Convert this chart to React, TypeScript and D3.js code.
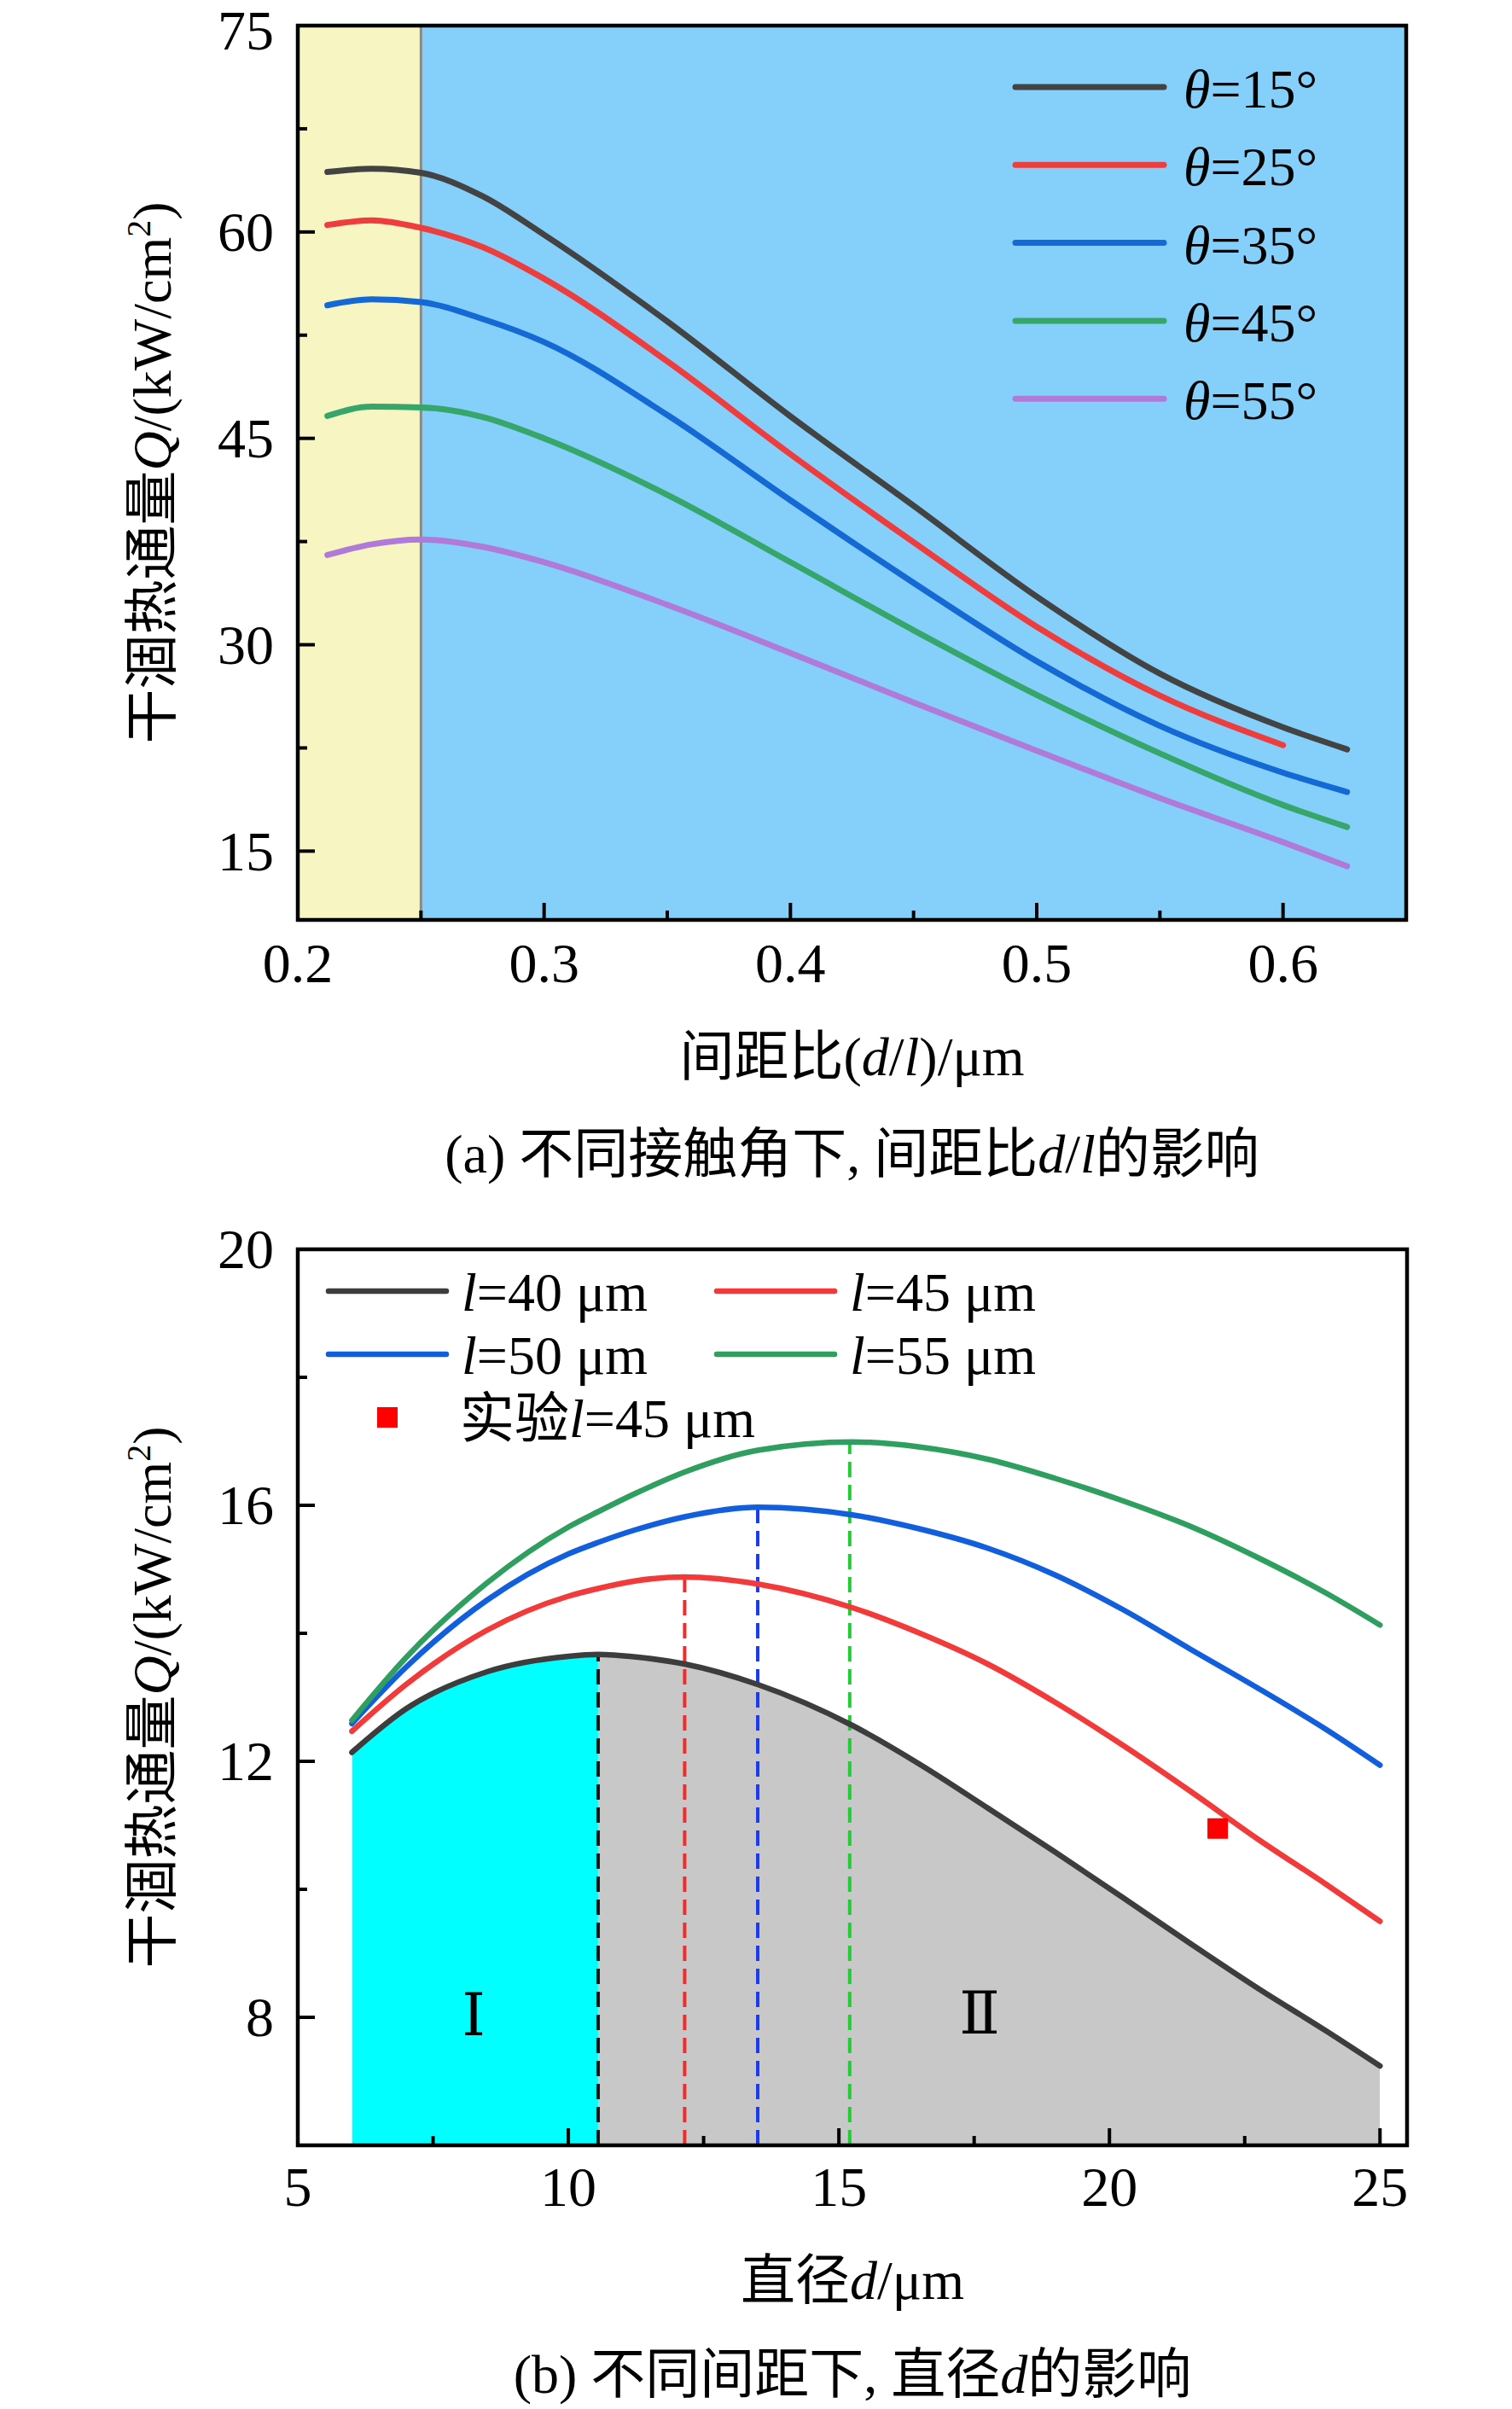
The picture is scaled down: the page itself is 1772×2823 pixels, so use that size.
import React from "react";
import * as d3 from "d3";

// (a) spacing ratio d/l vs dry-out heat flux, one series per contact angle
const ratio = [0.212, 0.23, 0.25, 0.275, 0.3, 0.35, 0.4, 0.45, 0.5, 0.55, 0.6, 0.626];
const theta15 = [64.36, 64.6, 64.3, 62.6, 59.8, 53.5, 46.6, 40.1, 33.5, 27.9, 24.0, 22.4];
const theta25 = [60.51, 60.85, 60.3, 58.9, 56.6, 50.6, 43.85, 37.45, 31.3, 26.3, 22.7];
const theta35 = [54.67, 55.1, 54.9, 53.68, 52.0, 46.7, 40.5, 34.5, 28.8, 24.1, 20.7, 19.3];
const theta45 = [46.63, 47.3, 47.25, 46.56, 45.0, 40.9, 36.0, 31.05, 26.35, 22.1, 18.35, 16.75];
const theta55 = [36.52, 37.3, 37.65, 37.12, 36.0, 32.9, 29.4, 25.8, 22.3, 18.85, 15.65, 13.9];
const thetaLabels = ["15", "25", "35", "45", "55"];
const ratioTicks = [0.2, 0.3, 0.4, 0.5, 0.6];
const ratioMinor = [0.25, 0.35, 0.45, 0.55];
const qTopTicks = [15, 30, 45, 60, 75];
const qTopMinor = [22.5, 37.5, 52.5, 67.5];
const ratioZone = 0.25;

// (b) diameter d vs dry-out heat flux, one series per spacing l
const diam = [6, 7, 8.5, 10, 10.55, 11.25, 12.15, 13.5, 15.25, 16.5, 17.75, 19, 20.25, 21.5, 22.75, 24, 25];
const l40 = [12.14, 12.82, 13.4, 13.64, 13.67, 13.63, 13.52, 13.2, 12.56, 11.95, 11.27, 10.58, 9.87, 9.15, 8.45, 7.79, 7.24];
const l45 = [12.47, 13.2, 14.05, 14.58, 14.7, 14.82, 14.88, 14.77, 14.4, 14.0, 13.52, 12.92, 12.25, 11.53, 10.78, 10.08, 9.5];
const l50 = [12.59, 13.47, 14.52, 15.24, 15.42, 15.62, 15.82, 15.97, 15.85, 15.63, 15.33, 14.91, 14.37, 13.75, 13.14, 12.5, 11.94];
const l55 = [12.64, 13.62, 14.79, 15.66, 15.9, 16.19, 16.52, 16.86, 16.99, 16.91, 16.72, 16.42, 16.07, 15.67, 15.18, 14.63, 14.13];
const spacingLabels = ["40", "45", "50", "55"];
const peakD = [10.55, 12.15, 13.5, 15.2];
const peakQ = [13.67, 14.88, 15.97, 16.99];
const expD = [22.0];
const expQ = [10.95];
const regionLabels = ["Ⅰ", "Ⅱ"];
const regionD = [8.25, 17.6];
const regionQ = [8.05, 8.08];
const diamTicks = [5, 10, 15, 20, 25];
const diamMinor = [7.5, 12.5, 17.5, 22.5];
const qBotTicks = [8, 12, 16, 20];
const qBotMinor = [10, 14, 18];

const serif = "'Liberation Serif', 'Times New Roman', 'Noto Sans CJK SC', serif";
const topColors = ["#434343", "#ee3d3d", "#1469d4", "#36a66a", "#b07ad9"];
const botColors = ["#3d3d3d", "#f23a3a", "#125fde", "#2e9f5e"];
const dashColors = ["#111111", "#f02c2c", "#1a3cf0", "#22cc33"];

const W = 1772;
const H = 2823;

const App: React.FC = () => {
  // panel (a)
  const xA = d3.scaleLinear().domain([0.2, 0.65]).range([349, 1648]);
  const yA = d3.scaleLinear().domain([10, 75]).range([1078, 30]);
  const lineA = d3
    .line<number>()
    .x((_, i) => xA(ratio[i]))
    .y((d) => yA(d))
    .curve(d3.curveMonotoneX);
  const seriesA = [theta15, theta25, theta35, theta45, theta55];

  // panel (b)
  const xB = d3.scaleLinear().domain([5, 25.5]).range([349, 1649]);
  const yB = d3.scaleLinear().domain([6, 20]).range([2514, 1464]);
  const lineB = d3
    .line<number>()
    .x((_, i) => xB(diam[i]))
    .y((d) => yB(d))
    .curve(d3.curveMonotoneX);
  const areaB = d3
    .area<number>()
    .x((_, i) => xB(diam[i]))
    .y0(yB(6))
    .y1((d) => yB(d))
    .curve(d3.curveMonotoneX);
  const seriesB = [l40, l45, l50, l55];

  const [a0, a1] = xA.range();
  const [aB, aT] = yA.range();
  const [b0, b1] = xB.range();
  const [bB, bT] = yB.range();

  const major = 20;
  const minor = 11;

  return (
    <svg
      width={W}
      height={H}
      viewBox={`0 0 ${W} ${H}`}
      style={{ position: "absolute", left: 0, top: 0, background: "#fff" }}
      fontFamily={serif}
    >
      {/* ===== panel (a) ===== */}
      <rect x={a0} y={aT} width={xA(ratioZone) - a0} height={aB - aT} fill="#f7f5c1" />
      <rect x={xA(ratioZone)} y={aT} width={a1 - xA(ratioZone)} height={aB - aT} fill="#84d0fb" />
      <line x1={xA(ratioZone)} x2={xA(ratioZone)} y1={aT} y2={aB} stroke="#8a8a8a" strokeWidth={3} />
      {seriesA.map((s, i) => (
        <path key={i} d={lineA(s) || ""} fill="none" stroke={topColors[i]} strokeWidth={7} strokeLinecap="round" />
      ))}
      <rect x={a0} y={aT} width={a1 - a0} height={aB - aT} fill="none" stroke="#000" strokeWidth={4.5} />
      {ratioTicks.map((t) => (
        <g key={t}>
          <line x1={xA(t)} x2={xA(t)} y1={aB} y2={aB - major} stroke="#000" strokeWidth={4} />
          <text x={xA(t)} y={aB + 73} fontSize={66} textAnchor="middle">{t.toFixed(1)}</text>
        </g>
      ))}
      {ratioMinor.map((t) => (
        <line key={t} x1={xA(t)} x2={xA(t)} y1={aB} y2={aB - minor} stroke="#000" strokeWidth={4} />
      ))}
      {qTopTicks.map((t) => (
        <g key={t}>
          <line x1={a0} x2={a0 + major} y1={yA(t)} y2={yA(t)} stroke="#000" strokeWidth={4} />
          <text x={a0 - 28} y={Math.max(yA(t), 36)} dy="0.34em" fontSize={66} textAnchor="end">{t}</text>
        </g>
      ))}
      {qTopMinor.map((t) => (
        <line key={t} x1={a0} x2={a0 + minor} y1={yA(t)} y2={yA(t)} stroke="#000" strokeWidth={4} />
      ))}
      {thetaLabels.map((lab, i) => {
        const y = 102 + i * 91.3;
        return (
          <g key={lab}>
            <line x1={1190} x2={1364} y1={y} y2={y} stroke={topColors[i]} strokeWidth={7} strokeLinecap="round" />
            <text x={1387} y={y + 24} fontSize={64}>
              <tspan fontStyle="italic">θ</tspan>={lab}°
            </text>
          </g>
        );
      })}
      <text x={200} y={(aT + aB) / 2} fontSize={64} textAnchor="middle" transform={`rotate(-90 200 ${(aT + aB) / 2})`}>
        干涸热通量<tspan fontStyle="italic">Q</tspan>/(kW/cm<tspan dy={-24} fontSize={40}>2</tspan>
        <tspan dy={24}>)</tspan>
      </text>
      <text x={(a0 + a1) / 2} y={1260} fontSize={64} textAnchor="middle">
        间距比(<tspan fontStyle="italic">d</tspan>/<tspan fontStyle="italic">l</tspan>)/μm
      </text>
      <text x={(a0 + a1) / 2} y={1374} fontSize={64} textAnchor="middle">
        (a) 不同接触角下, 间距比<tspan fontStyle="italic">d</tspan>/<tspan fontStyle="italic">l</tspan>的影响
      </text>

      {/* ===== panel (b) ===== */}
      <defs>
        <clipPath id="zone1">
          <rect x={xB(diam[0])} y={bT} width={xB(peakD[0]) - xB(diam[0])} height={bB - bT} />
        </clipPath>
        <clipPath id="zone2">
          <rect x={xB(peakD[0])} y={bT} width={xB(diam[diam.length - 1]) - xB(peakD[0])} height={bB - bT} />
        </clipPath>
      </defs>
      <path d={areaB(l40) || ""} fill="#00ffff" clipPath="url(#zone1)" />
      <path d={areaB(l40) || ""} fill="#c8c8c8" clipPath="url(#zone2)" />
      {peakD.map((d, i) => (
        <line
          key={d}
          x1={xB(d)}
          x2={xB(d)}
          y1={bB}
          y2={yB(peakQ[i])}
          stroke={dashColors[i]}
          strokeWidth={4}
          strokeDasharray="18 9"
        />
      ))}
      {regionLabels.map((lab, i) => (
        <text
          key={lab}
          x={xB(regionD[i])}
          y={yB(regionQ[i])}
          dy="0.36em"
          fontSize={70}
          textAnchor="middle"
          fontFamily="'DejaVu Serif', 'Liberation Serif', serif"
        >
          {lab}
        </text>
      ))}
      {seriesB.map((s, i) => (
        <path key={i} d={lineB(s) || ""} fill="none" stroke={botColors[i]} strokeWidth={6.5} strokeLinecap="round" />
      ))}
      {expD.map((d, i) => (
        <rect key={d} x={xB(d) - 12} y={yB(expQ[i]) - 12} width={24} height={24} fill="#ff0000" />
      ))}
      <rect x={b0} y={bT} width={b1 - b0} height={bB - bT} fill="none" stroke="#000" strokeWidth={4.5} />
      {diamTicks.map((t) => (
        <g key={t}>
          <line x1={xB(t)} x2={xB(t)} y1={bB} y2={bB - major} stroke="#000" strokeWidth={4} />
          <text x={xB(t)} y={bB + 71} fontSize={66} textAnchor="middle">{t}</text>
        </g>
      ))}
      {diamMinor.map((t) => (
        <line key={t} x1={xB(t)} x2={xB(t)} y1={bB} y2={bB - minor} stroke="#000" strokeWidth={4} />
      ))}
      {qBotTicks.map((t) => (
        <g key={t}>
          <line x1={b0} x2={b0 + major} y1={yB(t)} y2={yB(t)} stroke="#000" strokeWidth={4} />
          <text x={b0 - 28} y={yB(t)} dy="0.34em" fontSize={66} textAnchor="end">{t}</text>
        </g>
      ))}
      {qBotMinor.map((t) => (
        <line key={t} x1={b0} x2={b0 + minor} y1={yB(t)} y2={yB(t)} stroke="#000" strokeWidth={4} />
      ))}
      {spacingLabels.map((lab, i) => {
        const col = i % 2;
        const row = Math.floor(i / 2);
        const lx = col === 0 ? 385 : 840;
        const y = 1513 + row * 74;
        return (
          <g key={lab}>
            <line x1={lx} x2={lx + 138} y1={y} y2={y} stroke={botColors[i]} strokeWidth={6.5} strokeLinecap="round" />
            <text x={lx + 156} y={y + 23} fontSize={64}>
              <tspan fontStyle="italic">l</tspan>={lab} μm
            </text>
          </g>
        );
      })}
      <rect x={454 - 12} y={1661 - 12} width={24} height={24} fill="#ff0000" />
      <text x={539} y={1661 + 23} fontSize={64}>
        实验<tspan fontStyle="italic">l</tspan>=45 μm
      </text>
      <text x={200} y={(bT + bB) / 2} fontSize={64} textAnchor="middle" transform={`rotate(-90 200 ${(bT + bB) / 2})`}>
        干涸热通量<tspan fontStyle="italic">Q</tspan>/(kW/cm<tspan dy={-24} fontSize={40}>2</tspan>
        <tspan dy={24}>)</tspan>
      </text>
      <text x={(b0 + b1) / 2} y={2694} fontSize={64} textAnchor="middle">
        直径<tspan fontStyle="italic">d</tspan>/μm
      </text>
      <text x={(b0 + b1) / 2} y={2804} fontSize={64} textAnchor="middle">
        (b) 不同间距下, 直径<tspan fontStyle="italic">d</tspan>的影响
      </text>
    </svg>
  );
};

export default App;
